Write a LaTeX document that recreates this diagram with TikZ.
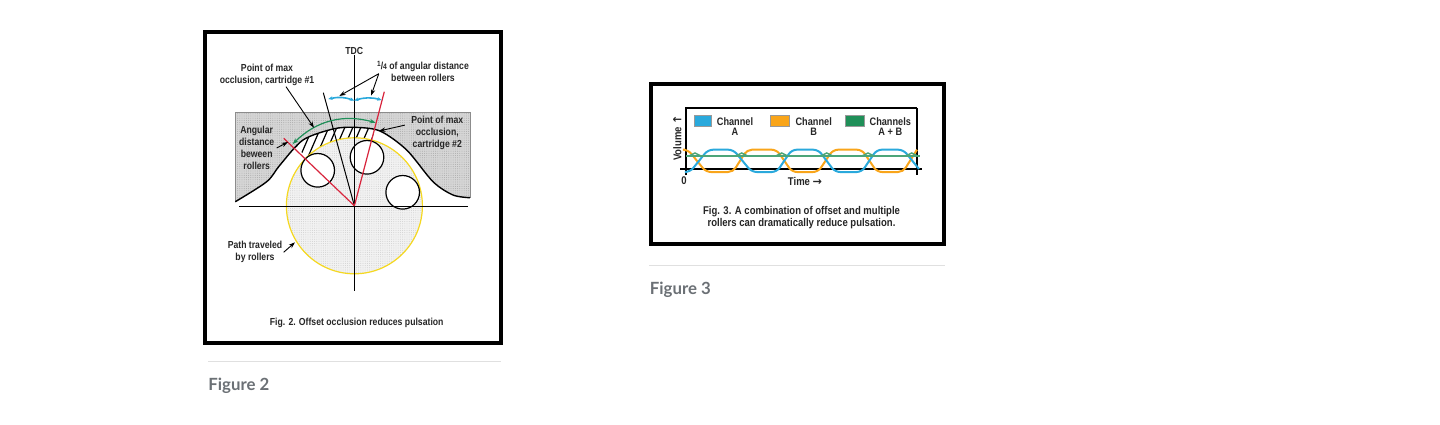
\documentclass[tikz,border=0pt]{standalone}
\usepackage{fontspec}
\usetikzlibrary{
	arrows.meta,
	patterns
}
\newfontfamily\labelfont{Liberation Sans}[FakeStretch=0.85]
\newfontfamily\capfont{Lato}
\newfontfamily\arrowfont{DejaVu Sans}
\definecolor{rollred}{HTML}{D8243C}
\definecolor{pathyellow}{HTML}{F5D820}
\definecolor{chanblue}{HTML}{2AA9DC}
\definecolor{chanorange}{HTML}{F9A51A}
\definecolor{changreen}{HTML}{1F8F58}
\definecolor{capgray}{HTML}{6B7075}
\pgfdeclarepatternformonly{finedots}{\pgfqpoint{-.3pt}{-.3pt}}{\pgfqpoint{.3pt}{.3pt}}{\pgfqpoint{1.1pt}{1.1pt}}{\pgfpathcircle{\pgfpointorigin}{.24pt}\pgfusepath{fill}}

\begin{document}
\begin{tikzpicture}[
    x=0.5pt, y=-0.5pt,
    lbl/.style={inner sep=0pt, align=center, text=black!85, font=\labelfont\bfseries\fontsize{5.1}{6}\selectfont},
    chartlbl/.style={lbl, font=\labelfont\bfseries\fontsize{5.6}{6.3}\selectfont},
    legendlbl/.style={lbl, font=\labelfont\bfseries\fontsize{5.4}{5}\selectfont},
    figframe/.style={draw=black, line width=1.8pt, fill=white},
    sepline/.style={draw=black!12, line width=0.5pt},
    figcap/.style={inner sep=0pt, anchor=base west, text=capgray, font=\capfont\bfseries\fontsize{8.4}{10}\selectfont},
    leader/.style={line width=0.45pt,-{Stealth[length=3.2pt,width=2.2pt]}},
    axisline/.style={line width=0.5pt, draw=black},
    redline/.style={line width=0.6pt, draw=rollred},
    roller/.style={line width=0.6pt, draw=black, fill=white},
    swatch/.style={draw=black!40, line width=0.3pt},
    archline/.style={insert path={-- plot[smooth] coordinates {(470,197.7) (453,195) (433,181.7) (406.7,150) (380,131) (354.3,127.3) (333,129) (303,140) (280,165) (266.7,181.7) (235.3,201.7)}}}
]
\useasboundingbox (0,0) rectangle (1440,424);

% Frames
\draw[figframe] (205,32) rectangle (501,343);
\draw[figframe] (651,84) rectangle (944,244);
\draw[sepline] (208,361.7) -- (501,361.7);
\draw[sepline] (649,265.3) -- (945,265.3);
\node[figcap] (figtwo) at (208,390) {Figure 2};
\node[figcap] (figthree) at (649.5,294.5) {Figure 3};

% Housing and arch
\fill[black!16] (235.3,112.3) -- (470,112.3) [archline] -- cycle;
\fill[pattern=finedots, pattern color=black!35] (235.3,112.3) -- (470,112.3) [archline] -- cycle;
\draw[black!45, line width=0.3pt] (235.3,201.7) -- (235.3,112.3) -- (470,112.3) -- (470,197.7);

% Hatching between the red lines
\coordinate (hub) at (354.4,205.8);
\begin{scope}
\clip (hub) -- (270,120) -- (388,80) -- cycle;
\clip (235.3,230) -- (470,230) [archline] -- cycle;
\foreach \x in {274,282,...,386}
    \draw[black, line width=0.6pt] (\x,180) -- (\x+23,127);
\end{scope}
\draw[black, line width=0.7pt] (470,197.7) [archline];

% Path of rollers
\fill[black!5] (hub) circle[radius=34pt];
\fill[pattern=finedots, pattern color=black!20] (hub) circle[radius=34pt];
\draw[pathyellow, line width=0.6pt] (hub) circle[radius=34pt];

\draw[roller] (317.7,170.3) circle[radius=8.4pt];
\draw[roller] (367,157.3) circle[radius=8.4pt];
\draw[roller] (402.7,192.3) circle[radius=8.4pt];

% Labels
\node[lbl] (tdc) at (354.3,51) {TDC};
\node[lbl] (quarter) at (423,71.7) {\raisebox{1.3pt}{\fontsize{3.8}{4}\selectfont 1}/{\fontsize{4}{4}\selectfont 4} of angular distance\\between rollers};
\node[lbl] (occlone) at (267,74.5) {Point of max\\occlusion, cartridge \#1};
\node[lbl] (occltwo) at (437.3,133.3) {Point of max\\occlusion,\\cartridge \#2};
\node[lbl] (angular) at (256.7,148) {Angular\\distance\\beween\\rollers};
\node[lbl] (pathlbl) at (255,252.3) {Path traveled\\by rollers};
\node[lbl] (figtwotext) at (356.7,322.7) {Fig. 2. Offset occlusion reduces pulsation};

% Axes and radii
\coordinate (tdcend) at (354.3,290.7);
\coordinate (horzl) at (239.3,206.5);
\coordinate (horzr) at (468.3,206.5);
\coordinate (blackend) at (323.3,92.7);
\coordinate (redl) at (283.7,138.3);
\coordinate (redr) at (384.3,91.7);
\draw[axisline] (tdc) -- (tdcend);
\draw[axisline] (horzl) -- (horzr);
\draw[axisline] (hub) -- (blackend);
\draw[redline] (hub) -- (redl);
\draw[redline] (hub) -- (redr);

% Arcs
\coordinate (bluel) at (328.3,99);
\coordinate (bluem) at (354.3,100.5);
\coordinate (bluer) at (381.7,100);
\coordinate (greenl) at (292.7,144);
\coordinate (greenr) at (375.7,122.7);
\draw[chanblue, line width=0.8pt, {Stealth[length=2.2pt,width=1.8pt]}-{Stealth[length=2.2pt,width=1.8pt]}] (bluel) to[bend left=16] (bluem);
\draw[chanblue, line width=0.8pt, {Stealth[length=2.2pt,width=1.8pt]}-{Stealth[length=2.2pt,width=1.8pt]}] (bluem) to[bend left=16] (bluer);
\draw[changreen, line width=0.6pt, {Stealth[length=3pt,width=2.2pt]}-{Stealth[length=3pt,width=2.2pt]}] (greenl) to[bend left=30] (greenr);

% Leaders
\coordinate (occlonetip) at (314,127.7);
\coordinate (occltwotip) at (379,131);
\coordinate (angulartip) at (288,142);
\coordinate (quarteratip) at (339.3,96);
\coordinate (quarterbtip) at (371,95.7);
\coordinate (pathtip) at (295,242.3);
\draw[leader] ([xshift=9.5pt,yshift=-0.5pt]occlone.south) -- (occlonetip);
\draw[leader] ([xshift=-3pt,yshift=-4.5pt]occltwo.north west) -- (occltwotip);
\draw[leader] ([xshift=1pt]angular.east) -- (angulartip);
\draw[leader] ([xshift=1pt,yshift=-1pt]quarter.west) -- (quarteratip);
\draw[leader] ([xshift=1pt,yshift=-1pt]quarter.west) -- (quarterbtip);
\draw[leader] ([xshift=.5pt]pathlbl.east) -- (pathtip);

% Figure 3 chart
\draw[black, line width=0.9pt] (685.7,174.7) -- (685.7,108) -- (916.7,108);
\draw[black, line width=0.8pt] (916.7,108) -- (916.7,174.7);
\draw[black, line width=1pt] (680,168.7) -- (922.3,168.7);

\begin{scope}[line width=1pt, rounded corners=2.5pt]
\draw[chanorange] (685,149.7) -- (688,149.7) -- (706,172) -- (733,172) -- (747,149.7) -- (776.7,149.7) -- (792,172) -- (818,172) -- (833,149.7) -- (862,149.7) -- (877,172) -- (903,172) -- (917,149.7);
\draw[chanblue] (686,172) -- (690,172) -- (708,149.7) -- (733.3,149.7) -- (751.7,172) -- (776.7,172) -- (791.7,149.7) -- (818.3,149.7) -- (835,172) -- (861.7,172) -- (876.7,149.7) -- (903.3,149.7) -- (919,169);
\end{scope}
\draw[changreen!80!white, line width=1pt] (686,156) -- (920,156);
\foreach \x in {695,741.7,781.7,826.7,868,911.7}
    \draw[changreen!80!white, line width=0.7pt] (\x-6,156) .. controls (\x-3,156) and (\x-3,153) .. (\x,153) .. controls (\x+3,153) and (\x+3,156) .. (\x+6,156);

% Legend
\fill[chanblue, swatch] (694,115.3) rectangle (711.7,126.3);
\fill[chanorange, swatch] (770,115.3) rectangle (789,126.3);
\fill[changreen, swatch] (845,115.3) rectangle (864,126.3);
\node[legendlbl] (chana) at (735,126.3) {Channel\\A};
\node[legendlbl] (chanb) at (813.7,126.3) {Channel\\B};
\node[legendlbl] (chanab) at (890.3,126.3) {Channels\\A + B};
\node[chartlbl, rotate=90] (volume) at (677.3,138) {Volume {\arrowfont\bfseries ↑}};
\node[chartlbl] (zero) at (684,180.7) {0};
\node[chartlbl] (timelbl) at (805,181.3) {Time {\arrowfont\bfseries →}};
\node[chartlbl] (figthreetext) at (801.5,217.7) {Fig. 3. A combination of offset and multiple\\rollers can dramatically reduce pulsation.};

\end{tikzpicture}
\end{document}
